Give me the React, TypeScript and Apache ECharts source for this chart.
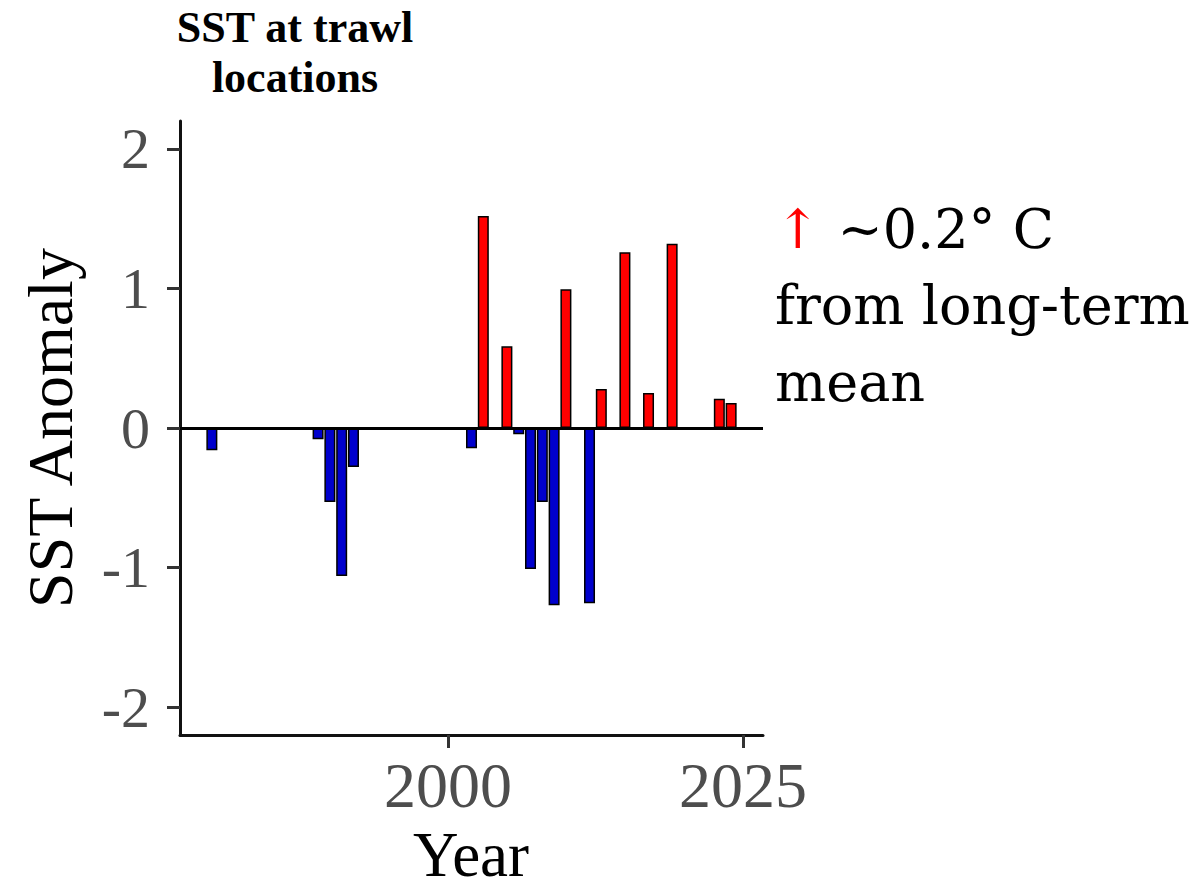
import React, { useEffect, useRef } from "react";
import * as echarts from "echarts";

const years = [1980, 1989, 1990, 1991, 1992, 2002, 2003, 2005, 2006, 2007, 2008, 2009, 2010, 2012, 2013, 2015, 2017, 2019, 2023, 2024];
const anomalies = [-0.16, -0.08, -0.53, -1.06, -0.28, -0.145, 1.52, 0.585, -0.045, -1.01, -0.53, -1.27, 0.995, -1.255, 0.28, 1.26, 0.25, 1.32, 0.21, 0.18];
const xTicks = [2000, 2025];
const yTicks = [-2, -1, 0, 1, 2];
const titleLines = ["SST at trawl", "locations"];
const noteLines = ["~0.2° C", "from long-term", "mean"];

export default function App() {
  const ref = useRef<HTMLDivElement>(null);
  useEffect(() => {
    if (!ref.current) return;
    const chart = echarts.init(ref.current, null, { renderer: "svg" });
    const serif = "'Liberation Serif', 'Times New Roman', serif";
    const noteFont = "'DejaVu Serif', serif";
    chart.setOption({
      animation: false,
      backgroundColor: "#ffffff",
      grid: { left: 180, top: 121, width: 583, height: 614, containLabel: false },
      xAxis: {
        type: "value",
        min: 1977.3,
        max: 2026.7,
        axisLine: { show: true, onZero: false, lineStyle: { color: "#111", width: 3 } },
        axisTick: { show: true, customValues: xTicks, length: 13, lineStyle: { color: "#333", width: 3 } },
        axisLabel: {
          show: true,
          customValues: xTicks,
          color: "#4d4d4d",
          fontFamily: serif,
          fontSize: 64,
          margin: 18,
          formatter: (v: number) => String(v),
        },
        splitLine: { show: false },
      },
      yAxis: {
        type: "value",
        min: -2.2,
        max: 2.2,
        axisLine: { show: true, onZero: false, lineStyle: { color: "#111", width: 3 } },
        axisTick: { show: true, customValues: yTicks, length: 13, lineStyle: { color: "#333", width: 3 } },
        axisLabel: {
          show: true,
          customValues: yTicks,
          color: "#4d4d4d",
          fontFamily: serif,
          fontSize: 58,
          margin: 30,
          formatter: (v: number) => String(v),
        },
        splitLine: { show: false },
      },
      series: [
        {
          type: "bar",
          barWidth: 11,
          data: years.map((y, i) => ({
            value: [y, anomalies[i]],
            itemStyle: { color: anomalies[i] >= 0 ? "#ff0000" : "#0000cd", borderColor: "#000", borderWidth: 1.5 },
          })),
          markLine: {
            silent: true,
            symbol: "none",
            label: { show: false },
            lineStyle: { color: "#000", width: 3, type: "solid" },
            data: [{ yAxis: 0 }],
          },
        },
      ],
      graphic: [
        {
          type: "text",
          x: 295,
          y: 27,
          style: { text: titleLines[0], font: `bold 44px ${serif}`, fill: "#000", align: "center", verticalAlign: "middle" },
        },
        {
          type: "text",
          x: 295,
          y: 77,
          style: { text: titleLines[1], font: `bold 44px ${serif}`, fill: "#000", align: "center", verticalAlign: "middle" },
        },
        {
          type: "text",
          x: 471,
          y: 855,
          style: { text: "Year", font: `63px ${serif}`, lineHeight: 56, fill: "#000", align: "center", verticalAlign: "middle" },
        },
        {
          type: "text",
          x: 50,
          y: 428,
          rotation: Math.PI / 2,
          style: { text: "SST Anomaly", font: `64px ${serif}`, fill: "#000", align: "center", verticalAlign: "middle" },
        },
        {
          type: "text",
          x: 775,
          y: 202,
          style: {
            text: "{a|↑} " + noteLines[0],
            font: `54px ${noteFont}`,
            fill: "#000",
            align: "left",
            verticalAlign: "top",
            rich: { a: { fill: "#ff0000", font: `54px ${noteFont}` } },
          },
        },
        {
          type: "text",
          x: 775,
          y: 278,
          style: { text: noteLines[1], font: `54px ${noteFont}`, fill: "#000", align: "left", verticalAlign: "top" },
        },
        {
          type: "text",
          x: 775,
          y: 355,
          style: { text: noteLines[2], font: `54px ${noteFont}`, fill: "#000", align: "left", verticalAlign: "top" },
        },
      ],
    });
    return () => chart.dispose();
  }, []);
  return <div ref={ref} style={{ position: "fixed", left: 0, top: 0, width: 1204, height: 889, background: "#fff" }} />;
}
